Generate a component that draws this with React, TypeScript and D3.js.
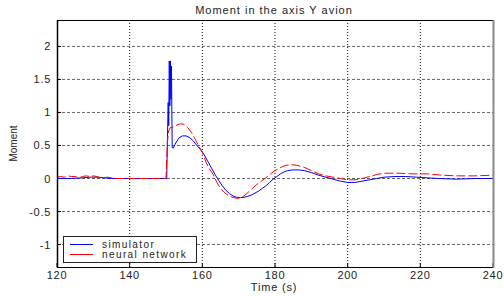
import * as d3 from "d3";

const W = 504;
const H = 296;

const xTicks = [120, 140, 160, 180, 200, 220, 240];
const yTicks = [-1, -0.5, 0, 0.5, 1, 1.5, 2];

const simTime = [
  120, 124, 127, 129, 131, 133, 135, 150.2, 150.4, 150.6, 150.75, 150.9, 151.05, 151.2, 151.35,
  151.5, 151.7, 152, 152.5, 153.5, 154.5, 155.5, 156.5, 157.5, 158.5, 159.5, 160.5, 161.5,
  162.5, 163.5, 164.5, 165.5, 166.5, 167.5, 168.5, 169.5, 170.5, 171.5, 172.5, 173.5, 174.5,
  175.5, 176.5, 177.5, 178.5, 179.5, 180.5, 181.5, 182.5, 183.5, 185, 186.5, 188, 190, 192,
  194, 196, 198, 200, 202, 204, 206, 208, 210, 213, 216, 219, 222, 225, 230, 235, 240,
];
const simValue = [
  0, 0, 0.01, 0.02, 0.02, 0.01, 0, 0, 0.62, 1.15, 0.8, 1.78, 1.1, 1.78, 1.2,
  1.7, 0.47, 0.46, 0.52, 0.61, 0.645, 0.645, 0.62, 0.57, 0.5, 0.44, 0.36, 0.26,
  0.16, 0.06, -0.03, -0.11, -0.18, -0.23, -0.265, -0.285, -0.29, -0.285, -0.27, -0.25, -0.22,
  -0.19, -0.15, -0.11, -0.06, -0.01, 0.03, 0.07, 0.1, 0.12, 0.13, 0.13, 0.12, 0.09, 0.05,
  0.02, -0.01, -0.04, -0.06, -0.06, -0.04, -0.02, 0, 0.02, 0.03, 0.03, 0.02, 0.01, 0, -0.01, 0, 0,
];

const nnTime = [
  120, 121, 122, 123, 124, 125, 126, 127, 128, 129, 130, 131, 132, 134, 136, 140, 145, 150,
  150.2, 150.4, 150.7, 151.2, 152, 153, 154, 155, 156, 157, 158, 159, 160, 161, 162, 163,
  164, 165, 166, 167, 168, 169, 170, 171, 172, 173, 174, 175, 176, 177, 178, 179, 180, 181,
  182, 183, 184.5, 186, 188, 190, 192, 194, 196, 198, 200, 202, 204, 206, 208, 210, 214, 218,
  222, 226, 230, 235, 240,
];
const nnValue = [
  0.02, 0.03, 0.02, 0.04, 0.03, 0.03, 0.01, 0.03, 0.04, 0.03, 0.04, 0.03, 0.01, 0.02, 0, 0, 0, 0,
  0.3, 0.55, 0.72, 0.77, 0.78, 0.81, 0.83, 0.82, 0.77, 0.7, 0.6, 0.49, 0.4, 0.25, 0.14, 0.06,
  -0.06, -0.15, -0.21, -0.25, -0.28, -0.295, -0.3, -0.28, -0.24, -0.19, -0.14, -0.09, -0.05, -0.01, 0.03, 0.08, 0.12, 0.15,
  0.18, 0.2, 0.21, 0.2, 0.17, 0.12, 0.07, 0.04, 0.02, 0, -0.02, -0.02, 0, 0.03, 0.06, 0.08, 0.08, 0.07,
  0.07, 0.05, 0.04, 0.04, 0.05,
];

const font = "Arial, 'Liberation Sans', Helvetica, sans-serif";

export default function App() {
  const x = d3.scaleLinear().domain([120, 240]).range([57, 493]);
  const y = d3.scaleLinear().domain([-1.34, 2.4]).range([267, 20]);
  const [x0, x1] = x.range();
  const [y0, y1] = y.range();

  const path = d3
    .line<[number, number]>()
    .x((d) => x(d[0]))
    .y((d) => y(d[1]));
  const sim = path(simTime.map((t, i) => [t, simValue[i]] as [number, number]));
  const nn = path(nnTime.map((t, i) => [t, nnValue[i]] as [number, number]));

  return (
    <svg
      width={W}
      height={H}
      style={{ position: "absolute", left: 0, top: 0, background: "#fff" }}
      fontFamily={font}
    >
      <rect x={0} y={0} width={W} height={H} fill="#fff" />
      {/* grid */}
      {yTicks.map((t) => (
        <line
          key={"gy" + t}
          x1={x0}
          x2={x1}
          y1={y(t)}
          y2={y(t)}
          stroke="#666"
          strokeDasharray="3,2"
          strokeWidth={1}
        />
      ))}
      {xTicks.slice(1, -1).map((t) => (
        <line
          key={"gx" + t}
          x1={x(t)}
          x2={x(t)}
          y1={y1}
          y2={y0}
          stroke="#111"
          strokeDasharray="1,2"
          strokeWidth={1}
        />
      ))}
      {/* ticks */}
      {xTicks.map((t) => (
        <g key={"tx" + t}>
          <line x1={x(t)} x2={x(t)} y1={y0} y2={y0 - 4} stroke="#000" />
          <text
            x={x(t)}
            y={279}
            fontSize={11}
            letterSpacing={0.7}
            textAnchor="middle"
            fill="#222"
          >
            {t}
          </text>
        </g>
      ))}
      {yTicks.map((t) => (
        <g key={"ty" + t}>
          <line x1={x0} x2={x0 + 4} y1={y(t)} y2={y(t)} stroke="#000" />
          <text
            x={51}
            y={y(t) + 4}
            fontSize={11}
            letterSpacing={0.7}
            textAnchor="end"
            fill="#222"
          >
            {t}
          </text>
        </g>
      ))}
      {/* data */}
      <path d={sim ?? ""} fill="none" stroke="#0000ff" strokeWidth={1} />
      <path d={nn ?? ""} fill="none" stroke="#ff0000" strokeWidth={1} strokeDasharray="9,3" />
      {/* frame */}
      <line x1={x0} x2={x1} y1={y1 + 0.5} y2={y1 + 0.5} stroke="#000" />
      <line x1={x0} x2={x1 + 1} y1={y0 + 0.5} y2={y0 + 0.5} stroke="#000" />
      <line x1={x0 + 0.5} x2={x0 + 0.5} y1={y1} y2={y0 + 1} stroke="#000" strokeWidth={1.5} />
      <line x1={x1 + 0.5} x2={x1 + 0.5} y1={y1} y2={y0 + 1} stroke="#888" strokeWidth={2} />
      {/* legend */}
      <rect x={63.5} y={236.5} width={133} height={26} fill="#fff" stroke="#222" />
      <line x1={70} x2={93} y1={244.5} y2={244.5} stroke="#0000ff" />
      <text x={102} y={247.5} fontSize={10} letterSpacing={1.4} fill="#222">
        simulator
      </text>
      <line x1={70} x2={93} y1={254.5} y2={254.5} stroke="#ff0000" />
      <text x={102} y={258} fontSize={10} letterSpacing={1.4} fill="#222">
        neural network
      </text>
      {/* titles */}
      <text x={274} y={14} fontSize={11} letterSpacing={1} textAnchor="middle" fill="#222">
        Moment in the axis Y avion
      </text>
      <text x={274} y={291} fontSize={11} letterSpacing={0.8} textAnchor="middle" fill="#222">
        Time (s)
      </text>
      <text
        transform={`translate(17, ${(y0 + y1) / 2}) rotate(-90)`}
        fontSize={10}
        textAnchor="middle"
        fill="#222"
      >
        Moment
      </text>
    </svg>
  );
}
